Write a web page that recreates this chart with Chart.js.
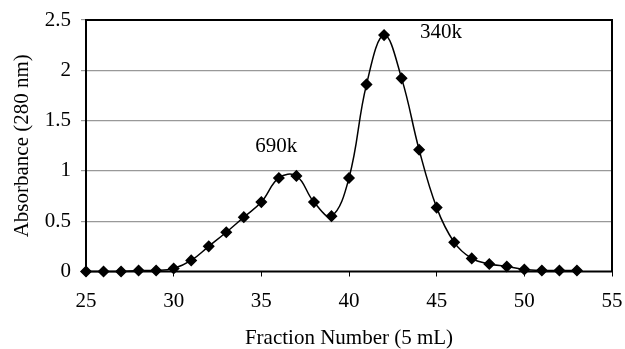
<!DOCTYPE html>
<html>
<head>
<meta charset="utf-8">
<script src="https://cdn.jsdelivr.net/npm/chart.js@4/dist/chart.umd.min.js"></script>
<style>
  html, body { margin: 0; padding: 0; background: #fff; }
  #wrap { width: 625px; height: 349px; }
</style>
</head>
<body>
<div id="wrap"><canvas id="elution"></canvas></div>
<script>
// Fraction numbers and absorbance values
const fractions = [25, 26, 27, 28, 29, 30, 31, 32, 33, 34, 35, 36, 37, 38, 39,
                   40, 41, 42, 43, 44, 45, 46, 47, 48, 49, 50, 51, 52, 53];
const absorbance = [0, 0, 0, 0.01, 0.01, 0.03, 0.11, 0.25, 0.39, 0.54, 0.69, 0.93, 0.95, 0.69, 0.55,
                    0.93, 1.86, 2.35, 1.92, 1.21, 0.635, 0.29, 0.13, 0.075, 0.05, 0.02, 0.01, 0.01, 0.01];
const xTicks = [25, 30, 35, 40, 45, 50, 55];
const yTicks = [0, 0.5, 1, 1.5, 2, 2.5];
// peak labels: [text, fraction, absorbance]
const peakLabels = [['690k', 35.85, 1.24], ['340k', 45.25, 2.375]];

const serif = '"Liberation Serif", "Times New Roman", serif';
const fontSize = 21;

const boxPlugin = {
  id: 'box',
  afterDraw(chart) {
    const { ctx, chartArea: a, scales } = chart;
    ctx.save();
    ctx.strokeStyle = '#000';
    ctx.lineWidth = 2;
    ctx.strokeRect(a.left, a.top, a.right - a.left, a.bottom - a.top);
    ctx.fillStyle = '#000';
    ctx.font = fontSize + 'px ' + serif;
    ctx.textAlign = 'center';
    ctx.textBaseline = 'middle';
    peakLabels.forEach(([t, fx, fy]) => {
      ctx.fillText(t, scales.x.getPixelForValue(fx), scales.y.getPixelForValue(fy));
    });
    ctx.restore();
  }
};

new Chart(document.getElementById('elution'), {
  type: 'line',
  data: {
    datasets: [{
      data: fractions.map((f, i) => ({ x: f, y: absorbance[i] })),
      borderColor: '#000',
      backgroundColor: '#000',
      borderWidth: 1.5,
      tension: 0.4,
      pointStyle: 'rectRot',
      pointRadius: 5,
      pointHoverRadius: 5,
      clip: false
    }]
  },
  options: {
    responsive: true,
    maintainAspectRatio: false,
    animation: false,
    layout: { padding: { top: 20, right: 13, left: 0, bottom: 0 } },
    plugins: { legend: { display: false }, tooltip: { enabled: false } },
    scales: {
      x: {
        type: 'linear',
        min: 25, max: 55,
        afterBuildTicks: s => { s.ticks = xTicks.map(v => ({ value: v })); },
        afterFit: s => { s.height = 77.5; s.paddingLeft = 0; s.paddingRight = 0; },
        grid: { drawOnChartArea: false, drawTicks: true, tickLength: 5, color: '#000' },
        border: { display: false },
        ticks: { color: '#000', font: { family: serif, size: fontSize }, padding: 12 },
        title: { display: true, text: 'Fraction Number (5 mL)', color: '#000',
                 font: { family: serif, size: fontSize, lineHeight: 1 }, padding: { top: 0, bottom: 0 } }
      },
      y: {
        min: 0, max: 2.5,
        afterBuildTicks: s => { s.ticks = yTicks.map(v => ({ value: v })); },
        afterFit: s => { s.width = 86; s.paddingTop = 0; s.paddingBottom = 0; },
        grid: {
          drawTicks: true,
          tickLength: 5,
          color: c => (c.tick.value > 0 && c.tick.value < 2.5) ? '#999' : 'rgba(0,0,0,0)',
          tickColor: '#999',
          lineWidth: 1.2
        },
        border: { display: false },
        ticks: { color: '#000', font: { family: serif, size: fontSize }, padding: 10,
                 callback: v => String(v) },
        title: { display: true, text: 'Absorbance (280 nm)', color: '#000',
                 font: { family: serif, size: fontSize, lineHeight: 1 }, padding: { top: 12, bottom: 0 } }
      }
    }
  },
  plugins: [boxPlugin]
});
</script>
</body>
</html>
